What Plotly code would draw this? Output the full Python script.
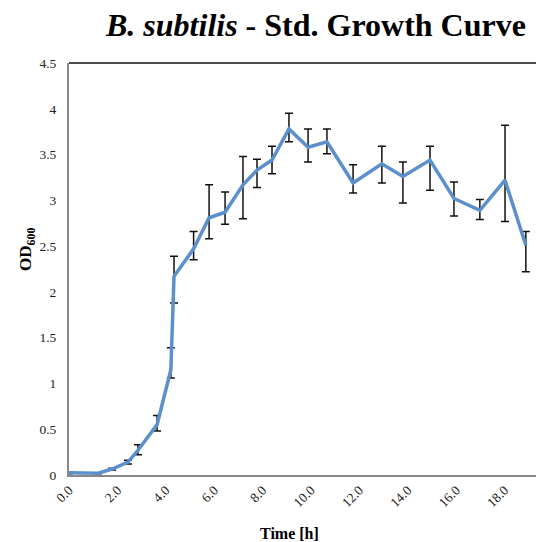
import plotly.graph_objects as go

# Growth curve of B. subtilis: time (h), mean OD600 and error bar extents
time_h = [0.0, 1.2, 1.78, 2.44, 2.85, 3.64, 4.21, 4.34, 5.15, 5.79, 6.45, 7.19,
          7.77, 8.39, 9.09, 9.88, 10.66, 11.74, 12.93, 13.8, 14.92, 15.91,
          16.98, 18.02, 18.88]
od600 = [0.025, 0.02, 0.065, 0.14, 0.27, 0.55, 1.15, 2.17, 2.47, 2.81, 2.87, 3.17,
         3.33, 3.44, 3.78, 3.58, 3.64, 3.19, 3.40, 3.26, 3.44, 3.02,
         2.89, 3.22, 2.51]
err_plus = [0.01, 0.005, 0.01, 0.02, 0.06, 0.10, 0.24, 0.22, 0.19, 0.36, 0.22, 0.31,
            0.12, 0.15, 0.17, 0.20, 0.14, 0.20, 0.19, 0.16, 0.15, 0.18,
            0.12, 0.60, 0.15]
err_minus = [0.01, 0.005, 0.01, 0.02, 0.05, 0.07, 0.09, 0.29, 0.12, 0.23, 0.13, 0.37,
             0.19, 0.15, 0.14, 0.16, 0.13, 0.11, 0.21, 0.29, 0.33, 0.19,
             0.10, 0.45, 0.29]

x_ticks = [0, 2, 4, 6, 8, 10, 12, 14, 16, 18]
y_ticks = [0, 0.5, 1, 1.5, 2, 2.5, 3, 3.5, 4, 4.5]
y_tick_text = ["0", "0.5", "1", "1.5", "2", "2.5", "3", "3.5", "4", "4.5"]

SERIF = "Liberation Serif, Times New Roman, serif"

fig = go.Figure()
fig.add_trace(go.Scatter(
    x=time_h, y=od600, mode="lines",
    line=dict(color="#5b90cc", width=3.5),
    error_y=dict(type="data", symmetric=False, array=err_plus, arrayminus=err_minus,
                 color="#111111", thickness=1.5, width=4),
    showlegend=False,
))

fig.update_layout(
    width=536, height=542,
    margin=dict(l=69, r=0, t=63, b=67),
    paper_bgcolor="white", plot_bgcolor="white",
    font=dict(family=SERIF, size=13, color="#222222"),
    xaxis=dict(range=[0, 19.3], tickvals=x_ticks, tickformat=".1f", tickangle=-45,
               showgrid=False, zeroline=False, showline=True, linecolor="#888888",
               linewidth=2, ticks="", tickfont=dict(size=13.5)),
    yaxis=dict(range=[0, 4.5], tickvals=y_ticks, ticktext=y_tick_text,
               showgrid=False, zeroline=False, showline=True, linecolor="#888888",
               linewidth=2, ticks="", ticklabelstandoff=8, tickfont=dict(size=13.5)),
    shapes=[dict(type="line", xref="paper", yref="paper", x0=0, x1=1, y0=1, y1=1,
                 line=dict(color="#111111", width=1.5))],
    annotations=[
        dict(text="<b><i>B. subtilis</i> - Std. Growth Curve</b>", xref="paper",
             yref="paper", x=1, y=1, xanchor="right", yanchor="middle",
             xshift=-8, yshift=38, showarrow=False,
             font=dict(family=SERIF, size=32, color="#000000")),
        dict(text="<b>OD<sub>600</sub></b>", xref="paper", yref="paper",
             x=0, y=0.5, xanchor="center", yanchor="middle", xshift=-42, yshift=19,
             textangle=-90, showarrow=False,
             font=dict(family=SERIF, size=17, color="#000000")),
        dict(text="<b>Time [h]</b>", xref="paper", yref="paper",
             x=0, y=0, xanchor="center", yanchor="middle", xshift=220, yshift=-58,
             showarrow=False, font=dict(family=SERIF, size=16, color="#000000")),
    ],
)

fig.write_html("out.html")
